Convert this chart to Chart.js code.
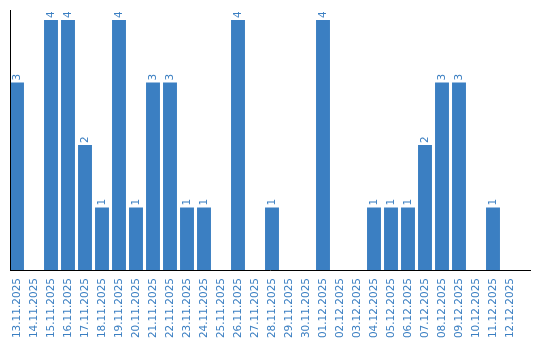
<!DOCTYPE html>
<html><head><meta charset="utf-8">
<script src="https://cdn.jsdelivr.net/npm/chart.js@4/dist/chart.umd.min.js"></script>
<style>html,body{margin:0;padding:0;background:#fff}#wrap{width:540px;height:340px}</style>
</head><body><div id="wrap"><canvas id="c" width="540" height="340"></canvas></div>
<script>
const categories = ["13.11.2025","14.11.2025","15.11.2025","16.11.2025","17.11.2025","18.11.2025","19.11.2025","20.11.2025","21.11.2025","22.11.2025","23.11.2025","24.11.2025","25.11.2025","26.11.2025","27.11.2025","28.11.2025","29.11.2025","30.11.2025","01.12.2025","02.12.2025","03.12.2025","04.12.2025","05.12.2025","06.12.2025","07.12.2025","08.12.2025","09.12.2025","10.12.2025","11.12.2025","12.12.2025"];
const counts = [3,0,4,4,2,1,4,1,3,3,1,1,0,4,0,1,0,0,4,0,0,1,1,1,2,3,3,0,1,0];

const BLUE = '#3b7fc2';
const FONT = '10.5px "DejaVu Sans"';

const decor = {
  id: 'decor',
  afterDatasetsDraw(chart) {
    const ctx = chart.ctx;
    ctx.save();
    ctx.strokeStyle = '#000';
    ctx.lineWidth = 1;
    ctx.beginPath();
    ctx.moveTo(10.5, 10);
    ctx.lineTo(10.5, 271);
    ctx.moveTo(10, 270.5);
    ctx.lineTo(531, 270.5);
    ctx.stroke();
    const meta = chart.getDatasetMeta(0);
    ctx.fillStyle = BLUE;
    ctx.font = FONT;
    ctx.textAlign = 'left';
    ctx.textBaseline = 'middle';
    meta.data.forEach((bar, i) => {
      const v = counts[i];
      if (!v) return;
      ctx.save();
      ctx.translate(bar.x, bar.y - 2);
      ctx.rotate(-Math.PI / 2);
      ctx.fillText(String(v), 0, 0);
      ctx.restore();
    });
    ctx.restore();
  }
};

new Chart(document.getElementById('c'), {
  type: 'bar',
  data: { labels: categories, datasets: [{ data: counts, backgroundColor: BLUE, borderWidth: 0, barPercentage: 0.82, categoryPercentage: 1 }] },
  options: {
    responsive: false,
    animation: false,
    layout: { padding: { left: 8.5, top: 10, right: 21.5, bottom: 0 } },
    plugins: { legend: { display: false }, tooltip: { enabled: false } },
    scales: {
      x: {
        grid: { display: false },
        border: { display: false },
        ticks: { color: BLUE, font: { family: 'DejaVu Sans', size: 10.5 }, minRotation: 90, maxRotation: 90, autoSkip: false, padding: 0 },
        afterFit(s) { s.height = 70; }
      },
      y: {
        display: false,
        min: 0, max: 4.16
      }
    }
  },
  plugins: [decor]
});
</script>
</body></html>
